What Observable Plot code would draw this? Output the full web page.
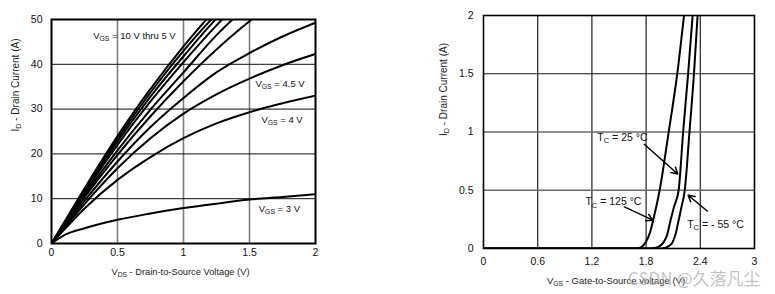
<!DOCTYPE html>
<html>
<head>
<meta charset="utf-8">
<script src="https://cdn.jsdelivr.net/npm/d3@7"></script>
<script src="https://cdn.jsdelivr.net/npm/@observablehq/plot@0.6"></script>
<style>
  html, body { margin: 0; padding: 0; background: #fff; }
  #wrap { position: relative; width: 775px; height: 294px; overflow: hidden; }
  #wrap svg { position: absolute; top: 0; }
</style>
</head>
<body>
<div id="wrap"></div>
<script>
// ---------- Left chart: output characteristics ----------
const vdsPoints = [0, 0.1, 0.25, 0.5, 0.75, 1, 1.25, 1.5, 1.75, 2];
const vgsNames = ["10 V", "9 V", "8 V", "7 V", "6 V", "5.5 V", "5 V", "4.5 V", "4 V", "3 V"];
const id10 = [0, 4.9, 12.3, 24.0, 34.5, 44.0, 52.5, 60, 67, 73];
const id9 = [0, 4.8, 12.0, 23.4, 33.7, 43.0, 51.2, 58, 65, 71];
const id8 = [0, 4.7, 11.7, 22.8, 32.8, 41.8, 50.2, 57, 63, 69];
const id7 = [0, 4.55, 11.3, 22.0, 31.7, 40.5, 48.7, 56, 62, 68];
const id6 = [0, 4.35, 10.8, 20.8, 29.9, 38.2, 46.5, 53.5, 60, 66];
const id55 = [0, 4.1, 10.3, 19.8, 28.4, 36.2, 43.3, 49.6, 55, 60];
const id5 = [0, 3.8, 9.5, 18.3, 26.0, 32.5, 38.2, 42.5, 46.2, 49.3];
const id45 = [0, 3.55, 8.8, 16.8, 23.5, 29.0, 33.3, 36.8, 39.8, 42.3];
const id4 = [0, 3.2, 7.8, 14.2, 19.3, 23.5, 26.8, 29.3, 31.3, 33.0];
const id3 = [0, 1.9, 3.4, 5.3, 6.7, 7.9, 8.9, 9.8, 10.4, 11.0];
const leftSeries = [id10, id9, id8, id7, id6, id55, id5, id45, id4, id3];

const leftXTicks = [0, 0.5, 1, 1.5, 2];
const leftYTicks = [0, 10, 20, 30, 40, 50];
const leftXLabel = "V{DS} - Drain-to-Source Voltage (V)";
const leftYLabel = "I{D} - Drain Current (A)";
const leftNotes = ["V{GS} = 10 V thru 5 V", "V{GS} = 4.5 V", "V{GS} = 4 V", "V{GS} = 3 V"];
const leftNoteX = [0.316, 1.545, 1.59, 1.57];
const leftNoteY = [46.4, 35.6, 27.6, 7.7];

// ---------- Right chart: transfer characteristics ----------
const tempNames = ["125 °C", "25 °C", "-55 °C"];
const vgs125 = [0, 1.6, 1.72, 1.76, 1.80, 1.84, 1.88, 1.95, 2.05, 2.145, 2.22, 2.25];
const id125 = [0, 0, 0.005, 0.02, 0.06, 0.13, 0.25, 0.5, 1.0, 1.5, 2.0, 2.2];
const vgs25 = [0, 1.8, 1.9, 1.95, 1.99, 2.03, 2.07, 2.11, 2.16, 2.21, 2.265, 2.315, 2.335];
const id25 = [0, 0, 0.005, 0.02, 0.05, 0.11, 0.24, 0.36, 0.5, 1.0, 1.5, 2.0, 2.2];
const vgsm55 = [0, 1.92, 2.01, 2.05, 2.09, 2.125, 2.16, 2.19, 2.228, 2.28, 2.33, 2.37, 2.385];
const idm55 = [0, 0, 0.005, 0.02, 0.05, 0.12, 0.24, 0.35, 0.5, 1.0, 1.5, 2.0, 2.2];
const rightSeriesX = [vgs125, vgs25, vgsm55];
const rightSeriesY = [id125, id25, idm55];

const rightXTicks = [0, 0.6, 1.2, 1.8, 2.4, 3];
const rightYTicks = [0, 0.5, 1, 1.5, 2];
const rightXLabel = "V{GS} - Gate-to-Source voltage (V)";
const rightYLabel = "I{D} - Drain Current (A)";
const rightNotes = ["T{C} = 25 °C", "T{C} = 125 °C", "T{C} = - 55 °C"];
const rightNoteX = [1.26, 1.128, 2.255];
const rightNoteY = [0.955, 0.40, 0.208];
const arrowX1 = [1.78, 1.56, 2.477];
const arrowY1 = [0.895, 0.357, 0.322];
const arrowX2 = [2.15, 1.874, 2.266];
const arrowY2 = [0.64, 0.243, 0.457];
const watermark = "CSDN @久落凡尘";

// ---------- build tables ----------
const leftRows = leftSeries.flatMap((arr, i) =>
  arr.map((v, j) => ({series: vgsNames[i], x: vdsPoints[j], y: v})));
const rightRows = rightSeriesX.flatMap((xs, i) =>
  xs.map((v, j) => ({series: tempNames[i], x: v, y: rightSeriesY[i][j]})));
const leftNoteRows = leftNotes.map((t, i) => ({t, x: leftNoteX[i], y: leftNoteY[i]}));
const rightNoteRows = rightNotes.map((t, i) => ({t, x: rightNoteX[i], y: rightNoteY[i]}));
const arrowRows = arrowX1.map((v, i) => ({x1: v, y1: arrowY1[i], x2: arrowX2[i], y2: arrowY2[i]}));

const font = "'Liberation Sans', Arial, sans-serif";

const left = Plot.plot({
  width: 330, height: 294,
  marginLeft: 51, marginRight: 15, marginTop: 19, marginBottom: 51,
  style: {fontFamily: font, fontSize: "10px", color: "#111", background: "transparent"},
  x: {domain: [0, 2]},
  y: {domain: [0, 50]},
  marks: [
    Plot.ruleX([0.5, 1, 1.5], {stroke: "#7d7d7d", strokeWidth: 1.6}),
    Plot.ruleY([10, 20, 30, 40], {stroke: "#111", strokeWidth: 1}),
    Plot.line(leftRows, {x: "x", y: "y", z: "series", curve: "monotone-x", stroke: "#000", strokeWidth: 2, clip: true}),
    Plot.frame({stroke: "#000", strokeWidth: 2}),
    Plot.axisX({ticks: leftXTicks, tickSize: 0, tickPadding: 5, label: null, tickFormat: d => String(d), fontSize: 10.5}),
    Plot.axisY({ticks: leftYTicks, tickSize: 0, tickPadding: 9, label: null, tickFormat: d => String(d), fontSize: 10.5}),
    Plot.text(leftNoteRows, {x: "x", y: "y", text: "t", textAnchor: "start", fontSize: 9.5, fill: "#111"}),
    Plot.text([leftXLabel], {frameAnchor: "bottom", dx: -3, dy: 31, fontSize: 9.3, fill: "#222"}),
    Plot.text([leftYLabel], {frameAnchor: "left", rotate: -90, dx: -36, fontSize: 10, fill: "#222"})
  ]
});

const right = Plot.plot({
  width: 355, height: 294,
  marginLeft: 63, marginRight: 21, marginTop: 15, marginBottom: 46,
  style: {fontFamily: font, fontSize: "10px", color: "#111", background: "transparent"},
  x: {domain: [0, 3]},
  y: {domain: [0, 2]},
  marks: [
    Plot.ruleX([0.6, 1.2, 1.8, 2.4], {stroke: "#222", strokeWidth: 1.2}),
    Plot.ruleY([0.5, 1], {stroke: "#6a6a6a", strokeWidth: 1.4}),
    Plot.ruleY([1.5], {stroke: "#111", strokeWidth: 1.2}),
    Plot.line(rightRows, {x: "x", y: "y", z: "series", curve: "monotone-x", stroke: "#000", strokeWidth: 2, clip: true}),
    Plot.frame({stroke: "#000", strokeWidth: 1.6}),
    Plot.arrow(arrowRows, {x1: "x1", y1: "y1", x2: "x2", y2: "y2", stroke: "#000", strokeWidth: 1.5, headLength: 7}),
    Plot.axisX({ticks: rightXTicks, tickSize: 0, tickPadding: 9, label: null, tickFormat: d => String(d), fontSize: 10.5}),
    Plot.axisY({ticks: rightYTicks, tickSize: 0, tickPadding: 10, label: null, tickFormat: d => String(d), fontSize: 10.5}),
    Plot.text(rightNoteRows, {x: "x", y: "y", text: "t", textAnchor: "start", fontSize: 10.5, fill: "#111"}),
    Plot.text([rightXLabel], {frameAnchor: "bottom", dx: -3, dy: 35, fontSize: 9.5, fill: "#222"}),
    Plot.text([rightYLabel], {frameAnchor: "left", rotate: -90, dx: -40, dy: 4, fontSize: 10, fill: "#222"}),
    Plot.text([watermark], {frameAnchor: "bottom-right", textAnchor: "end", dx: 6, dy: 36, fontSize: 17, fill: "#b8b8b8", fillOpacity: 0.85, fontFamily: "'Noto Sans CJK SC', 'Noto Sans', sans-serif"})
  ]
});

// subscripts: "X{ab}" -> X with subscript ab
function applySubscripts(svg) {
  const ns = "http://www.w3.org/2000/svg";
  svg.querySelectorAll("text").forEach(t => {
    const s = t.textContent;
    if (!s.includes("{")) return;
    while (t.firstChild) t.removeChild(t.firstChild);
    let prevSub = false;
    s.split(/(\{[^}]*\})/).forEach(p => {
      if (!p) return;
      const ts = document.createElementNS(ns, "tspan");
      if (p.startsWith("{")) {
        ts.textContent = p.slice(1, -1);
        ts.setAttribute("font-size", "0.72em");
        ts.setAttribute("dy", "0.35em");
        prevSub = true;
      } else {
        ts.textContent = p;
        if (prevSub) ts.setAttribute("dy", "-0.252em");
        prevSub = false;
      }
      t.appendChild(ts);
    });
  });
}
applySubscripts(left);
applySubscripts(right);

left.style.left = "0px";
right.style.left = "420px";
const wrap = document.getElementById("wrap");
wrap.appendChild(left);
wrap.appendChild(right);
</script>
</body>
</html>
